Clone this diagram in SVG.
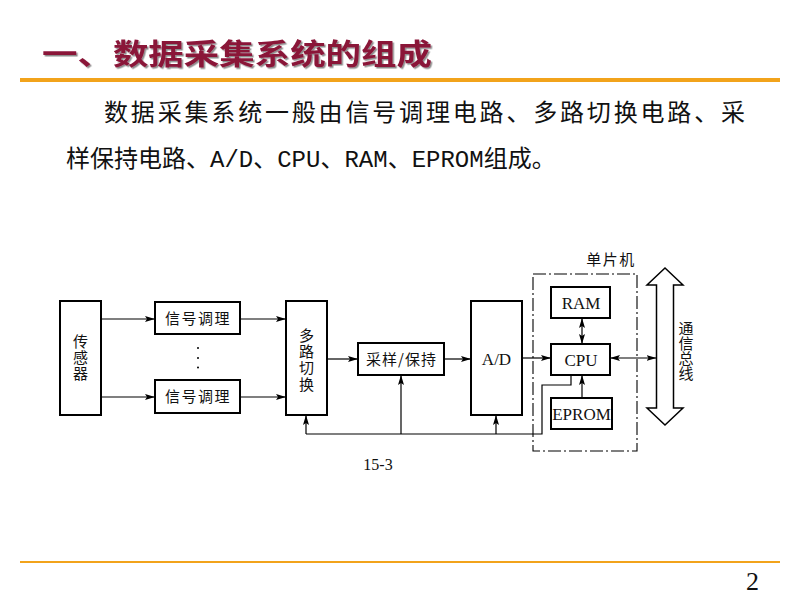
<svg xmlns="http://www.w3.org/2000/svg" width="800" height="600" viewBox="0 0 800 600">
<style>
.box{fill:#fff;stroke:#000;stroke-width:2}
.ln{fill:none;stroke:#000;stroke-width:1.2}
.cjk{font-family:"Noto Sans CJK SC",sans-serif;fill:#111}
.mono{font-family:"Liberation Mono",monospace}
.lab{font-family:"Noto Sans CJK SC",sans-serif;font-size:15px;fill:#111;text-anchor:middle}
.vert{font-family:"Noto Sans CJK SC",sans-serif;font-size:15px;fill:#111;writing-mode:vertical-rl;text-anchor:start}
.lat{font-family:"Liberation Serif",serif;font-size:17px;fill:#111;text-anchor:middle}
.dash{fill:none;stroke:#000;stroke-width:1.1;stroke-dasharray:13 3 2 3}
</style>
<defs>
<marker id="ah" viewBox="0 0 10 6" refX="10" refY="3" markerWidth="10" markerHeight="6" markerUnits="userSpaceOnUse" orient="auto-start-reverse">
<path d="M0,0 L10,3 L0,6 L2,3 z" fill="#000"/>
</marker>
<filter id="sh" x="-5%" y="-20%" width="110%" height="150%">
<feDropShadow dx="1.5" dy="1.5" stdDeviation="0.6" flood-color="#000" flood-opacity="0.45"/>
</filter>
</defs>
<rect width="800" height="600" fill="#fff"/>

<g id="title">
<text x="42" y="65" font-family="Noto Sans CJK SC,sans-serif" font-weight="bold" font-size="29" fill="#8A1538" textLength="390" lengthAdjust="spacingAndGlyphs" filter="url(#sh)">一、数据采集系统的组成</text>
<rect x="20" y="78" width="760" height="4" fill="#F2A31B"/>
</g>

<g id="paragraph">
<text class="cjk" x="104" y="121" font-size="24" textLength="641" lengthAdjust="spacing">数据采集系统一般由信号调理电路、多路切换电路、采</text>
<text class="cjk" x="66" y="167" font-size="24">样保持电路、<tspan class="mono">A/D</tspan>、<tspan class="mono">CPU</tspan>、<tspan class="mono">RAM</tspan>、<tspan class="mono">EPROM</tspan>组成。</text>
</g>

<g id="sensor">
<rect class="box" x="60" y="301" width="41" height="114"/>
<text class="vert" x="80.5" y="334" letter-spacing="1">传感器</text>
</g>

<g id="cond1">
<rect class="box" x="155" y="302" width="85" height="32"/>
<text class="lab" x="198" y="324" letter-spacing="1.5">信号调理</text>
</g>

<g id="cond2">
<rect class="box" x="155" y="380" width="85" height="33"/>
<text class="lab" x="198" y="402" letter-spacing="1.5">信号调理</text>
</g>

<g id="dots" fill="#000">
<circle cx="198" cy="348" r="1"/>
<circle cx="198" cy="358" r="1"/>
<circle cx="198" cy="367.5" r="1"/>
</g>

<g id="mux">
<rect class="box" x="286" y="301" width="41" height="114"/>
<text class="vert" x="306.5" y="327.5" letter-spacing="1.3">多路切换</text>
</g>

<g id="sh-node">
<rect class="box" x="358" y="343" width="86" height="32"/>
<text class="lab" x="401" y="365" textLength="70" lengthAdjust="spacing">采样/保持</text>
</g>

<g id="adc">
<rect class="box" x="471" y="301" width="51" height="114"/>
<text class="lat" x="496.5" y="365">A/D</text>
</g>

<g id="mcu">
<rect class="dash" x="533" y="274" width="104" height="177"/>
<text class="lab" x="611" y="265" letter-spacing="1.5">单片机</text>
</g>

<g id="ram">
<rect class="box" x="551" y="287" width="59" height="31"/>
<text class="lat" x="581" y="309">RAM</text>
</g>

<g id="cpu">
<rect class="box" x="551" y="344" width="59" height="31"/>
<text class="lat" x="581" y="366" font-size="18">CPU</text>
</g>

<g id="eprom">
<rect class="box" x="551" y="398" width="61" height="31"/>
<text class="lat" x="581.5" y="420">EPROM</text>
</g>

<g id="bus">
<polygon points="665,268 683,285 673.5,285 673.5,408 683,408 665,425 647,408 656.5,408 656.5,285 647,285" fill="#fff" stroke="#000" stroke-width="1.5" stroke-linejoin="miter"/>
<text class="vert" x="686" y="320.5">通信总线</text>
</g>

<g id="connectors" class="ln">
<line x1="101" y1="319" x2="155" y2="319" marker-end="url(#ah)"/>
<line x1="101" y1="397" x2="155" y2="397" marker-end="url(#ah)"/>
<line x1="240" y1="319" x2="286" y2="319" marker-end="url(#ah)"/>
<line x1="240" y1="397" x2="286" y2="397" marker-end="url(#ah)"/>
<line x1="327" y1="359" x2="358" y2="359" marker-end="url(#ah)"/>
<line x1="444" y1="359" x2="471" y2="359" marker-end="url(#ah)"/>
<line x1="522" y1="358" x2="551" y2="358" marker-end="url(#ah)"/>
<line x1="582" y1="318" x2="582" y2="344" marker-start="url(#ah)" marker-end="url(#ah)"/>
<line x1="582" y1="398" x2="582" y2="375" marker-end="url(#ah)"/>
<line x1="610" y1="358" x2="656.5" y2="358" marker-start="url(#ah)" marker-end="url(#ah)"/>
<polyline points="571,375 571,385 542,385 542,434 306,434"/>
<line x1="306" y1="434" x2="306" y2="415" marker-end="url(#ah)"/>
<line x1="401" y1="434" x2="401" y2="375" marker-end="url(#ah)"/>
<line x1="496" y1="434" x2="496" y2="415" marker-end="url(#ah)"/>
</g>

<g id="caption">
<text x="378" y="470" font-family="Liberation Serif,serif" font-size="16" fill="#111" text-anchor="middle">15-3</text>
</g>

<g id="footer">
<rect x="20" y="561" width="760" height="2" fill="#F2A31B"/>
<text x="746" y="590" font-family="Liberation Serif,serif" font-size="26" fill="#111">2</text>
</g>
</svg>
